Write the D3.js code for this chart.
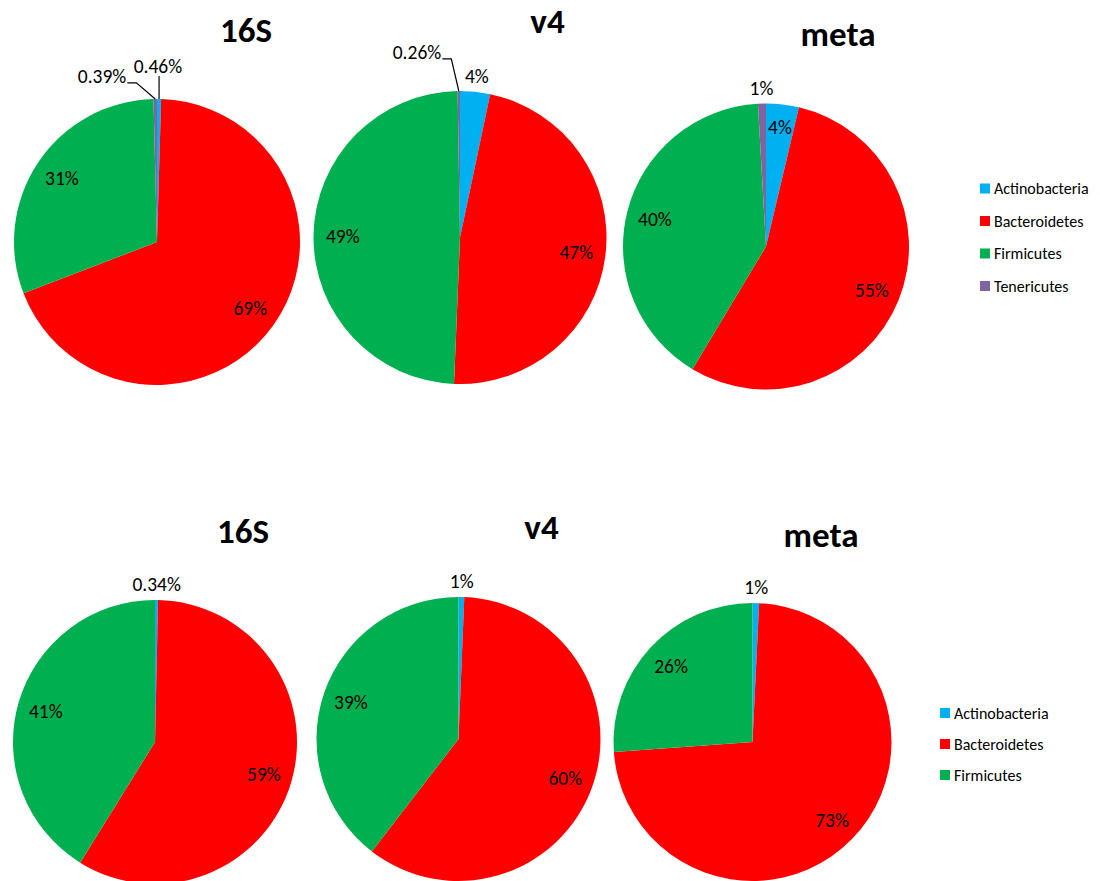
<!DOCTYPE html>
<html>
<head>
<meta charset="utf-8">
<script src="https://cdn.jsdelivr.net/npm/d3@7/dist/d3.min.js"></script>
<style>
  html, body { margin: 0; padding: 0; background: #fff; }
  svg { display: block; }
</style>
</head>
<body>
<svg id="chart" width="1100" height="881"></svg>
<script>
// ---------------- DATA ----------------
const categories = ["Actinobacteria", "Bacteroidetes", "Firmicutes", "Tenericutes"];
const titles = ["16S", "v4", "meta", "16S", "v4", "meta"];

// percentages per pie (order: Actinobacteria, Bacteroidetes, Firmicutes, Tenericutes)
const top16S   = [0.46, 68.70, 30.45, 0.39];
const topV4    = [3.30, 47.35, 49.09, 0.26];
const topMeta  = [3.70, 54.90, 40.50, 0.90];
const bot16S   = [0.34, 58.50, 41.16];
const botV4    = [0.65, 59.80, 39.55];
const botMeta  = [0.76, 73.10, 26.14];

const labelsTop16S  = ["0.46%", "69%", "31%", "0.39%"];
const labelsTopV4   = ["4%", "47%", "49%", "0.26%"];
const labelsTopMeta = ["4%", "55%", "40%", "1%"];
const labelsBot16S  = ["0.34%", "59%", "41%"];
const labelsBotV4   = ["1%", "60%", "39%"];
const labelsBotMeta = ["1%", "73%", "26%"];

const topLegend = categories;
const bottomLegend = categories.slice(0, 3);

// ---------------- STYLE / LAYOUT ----------------
const colors = d3.scaleOrdinal()
  .domain(categories)
  .range(["#00B0F0", "#FF0000", "#00B050", "#8064A2"]);

const pies = [
  { values: top16S,  labels: labelsTop16S,  title: titles[0], cx: 157,   cy: 242,   r: 143,
    title_x: 246, title_y: 42,
    modes: ["leaderBelow", "in", "in", "leaderSide"],
    leaderPos: { 0: [0.3, 33], 3: [-18.3, 32] } },
  { values: topV4,   labels: labelsTopV4,   title: titles[1], cx: 460,   cy: 237.5, r: 146.5,
    title_x: 547.5, title_y: 33,
    modes: ["out", "in", "in", "leaderSide"],
    leaderPos: { 3: [-13.05, 44] } },
  { values: topMeta, labels: labelsTopMeta, title: titles[2], cx: 766,   cy: 246.5, r: 143,
    title_x: 838, title_y: 46,
    modes: ["in84", "in", "in", "out"], leaderPos: {} },
  { values: bot16S,  labels: labelsBot16S,  title: titles[3], cx: 155,   cy: 742,   r: 142,
    title_x: 243, title_y: 543,
    modes: ["out", "in", "in"], leaderPos: {} },
  { values: botV4,   labels: labelsBotV4,   title: titles[4], cx: 458.5, cy: 739,   r: 142,
    title_x: 541.5, title_y: 539,
    modes: ["out", "in", "in"], leaderPos: {} },
  { values: botMeta, labels: labelsBotMeta, title: titles[5], cx: 752.5, cy: 742,   r: 139,
    title_x: 821, title_y: 547,
    modes: ["out", "in", "in"], leaderPos: {} }
];

const legends = [
  { items: topLegend,    x: 980, y: 188.5, step: 32.5 },
  { items: bottomLegend, x: 940, y: 713,   step: 31 }
];

const FONT = "Carlito, Lato, 'Open Sans', sans-serif";
const svg = d3.select("#chart");

function polar(cx, cy, radius, a) {
  return [cx + radius * Math.sin(a), cy - radius * Math.cos(a)];
}

pies.forEach(p => {
  const g = svg.append("g");
  const pieGen = d3.pie().sort(null).value(d => d).startAngle(0).endAngle(2 * Math.PI);
  const arcs = pieGen(p.values);
  const arcGen = d3.arc().innerRadius(0).outerRadius(p.r);

  g.selectAll("path.slice")
    .data(arcs)
    .join("path")
    .attr("class", "slice")
    .attr("transform", `translate(${p.cx},${p.cy})`)
    .attr("d", arcGen)
    .attr("fill", (d, i) => colors(categories[i]));

  // title
  g.append("text")
    .attr("x", p.title_x).attr("y", p.title_y)
    .attr("text-anchor", "middle")
    .attr("font-family", FONT).attr("font-weight", "bold")
    .attr("font-size", 35).attr("fill", "#000")
    .text(p.title);

  // labels
  arcs.forEach((d, i) => {
    const mid = (d.startAngle + d.endAngle) / 2;
    const mode = p.modes[i];
    let pos;
    if (mode === "in") pos = polar(p.cx, p.cy, p.r * 0.8, mid);
    else if (mode === "in84") pos = polar(p.cx, p.cy, p.r * 0.84, mid);
    else if (mode === "out") pos = polar(p.cx, p.cy, p.r + 16, mid);
    else {
      const lp = p.leaderPos[i];
      pos = polar(p.cx, p.cy, p.r + lp[1], lp[0] * Math.PI / 180);
    }
    const t = g.append("text")
      .attr("x", pos[0]).attr("y", pos[1])
      .attr("dy", "0.36em")
      .attr("text-anchor", "middle")
      .attr("font-family", FONT).attr("font-size", 19.5)
      .attr("fill", "#000")
      .text(p.labels[i]);

    if (mode === "leaderSide" || mode === "leaderBelow") {
      const bb = t.node().getBBox();
      const edge = polar(p.cx, p.cy, p.r, mid);
      let pts;
      if (mode === "leaderSide") {
        const y0 = pos[1] + 7;
        const x0 = bb.x + bb.width + 1;
        pts = [[x0, y0], [x0 + 9, y0], edge];
      } else {
        const y0 = pos[1] + 10;
        pts = [[edge[0], y0], edge];
      }
      g.append("path")
        .attr("d", d3.line()(pts))
        .attr("fill", "none")
        .attr("stroke", "#000")
        .attr("stroke-width", 1.2);
    }
  });
});

// legends
legends.forEach(L => {
  const lg = svg.append("g");
  const rows = lg.selectAll("g.row")
    .data(L.items)
    .join("g")
    .attr("class", "row")
    .attr("transform", (d, i) => `translate(${L.x},${L.y + i * L.step})`);
  rows.append("rect")
    .attr("x", 0).attr("y", -5).attr("width", 10).attr("height", 10)
    .attr("fill", d => colors(d));
  rows.append("text")
    .attr("x", 14).attr("y", 0).attr("dy", "0.36em")
    .attr("font-family", FONT).attr("font-size", 16)
    .attr("fill", "#000")
    .text(d => d);
});
</script>
</body>
</html>
